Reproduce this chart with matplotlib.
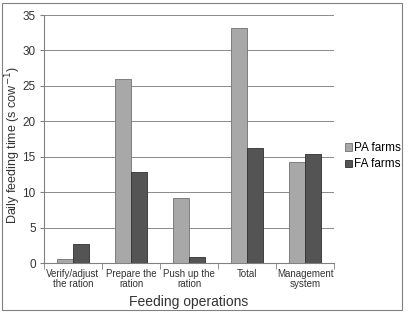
import matplotlib
matplotlib.use("Agg")
from matplotlib import pyplot as plt
from matplotlib.patches import Rectangle
import numpy as np

categories = ["Verify/adjust\nthe ration", "Prepare the\nration", "Push up the\nration", "Total", "Management\nsystem"]
pa_farms = [0.5, 26.0, 9.2, 33.2, 14.2]
fa_farms = [2.7, 12.8, 0.9, 16.3, 15.4]

plt.rcParams['font.family'] = ['Liberation Sans', 'DejaVu Sans']

fig = plt.figure(figsize=(4.09, 3.13), dpi=100)
ax = fig.add_axes([44/409, 1 - 263/313, 290/409, 248/313])

x = np.arange(len(categories))
w = 0.28
ax.bar(x - w/2, pa_farms, w, color="#a8a8a8", edgecolor="#707070", linewidth=0.6, label="PA farms", zorder=3)
ax.bar(x + w/2, fa_farms, w, color="#545454", edgecolor="#303030", linewidth=0.6, label="FA farms", zorder=3)

ax.set_xlim(-0.5, len(categories) - 0.5)
ax.set_ylim(0, 35)
ax.set_yticks(range(0, 36, 5))
ax.yaxis.grid(True, color="#8a8a8a", linewidth=0.7, zorder=0)
ax.set_xticks(x)
ax.set_xticklabels(categories, fontsize=7, color="#333333", linespacing=1.1)
ax.tick_params(axis="x", length=0, pad=4)
ax.set_xticks(np.arange(-0.5, len(categories), 1), minor=True)
ax.tick_params(axis="x", which="minor", length=4, color="#808080")
ax.tick_params(axis="y", labelsize=8.5, length=3, color="#808080", labelcolor="#333333", pad=3)
for s in ["top", "right"]:
    ax.spines[s].set_visible(False)
for s in ["left", "bottom"]:
    ax.spines[s].set_color("#808080")

ax.set_xlabel("Feeding operations", fontsize=10, color="#333333", labelpad=4)
fig.text(13/409, 1 - 145/313, "Daily feeding time (s cow$^{-1}$)", rotation=90,
         ha="center", va="center", fontsize=9, color="#333333")

ax.legend(loc="center left", bbox_to_anchor=(1.02, 0.43), frameon=False,
          fontsize=8.5, handlelength=0.6, handleheight=0.6, handletextpad=0.2, labelspacing=0.35,
          borderaxespad=0)

fig.patches.append(Rectangle((2/409, 3/313), 400/409, 307/313, transform=fig.transFigure,
                             fill=False, edgecolor="#808080", linewidth=0.8))

plt.savefig("out.png", dpi=100)
